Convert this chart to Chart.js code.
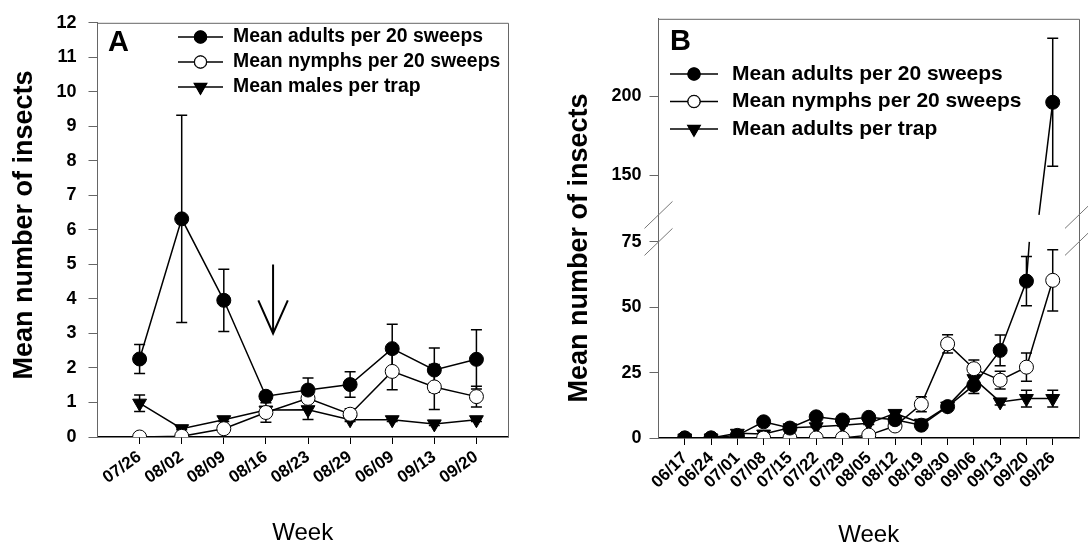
<!DOCTYPE html>
<html>
<head>
<meta charset="utf-8">
<script src="https://cdn.jsdelivr.net/npm/chart.js@4"></script>
<style>
  html, body { margin: 0; padding: 0; background: #fff; }
  .panel { position: absolute; top: 0; width: 544px; height: 550px; }
</style>
</head>
<body>
<div class="panel" style="left:0"><canvas id="chartA"></canvas></div>
<div class="panel" style="left:544px"><canvas id="chartB"></canvas></div>
<script>
// ---- panel A data ----
var WEEKS_A = ['07/26', '08/02', '08/09', '08/16', '08/23', '08/29', '06/09', '09/13', '09/20'];
var ADULTS_A = [2.26, 6.32, 3.96, 1.18, 1.36, 1.52, 2.56, 1.94, 2.25];
var ADULTS_A_SE = [0.42, 3.0, 0.9, 0.12, 0.35, 0.37, 0.71, 0.64, 0.86];
var NYMPHS_A = [0, 0.02, 0.24, 0.71, 1.12, 0.66, 1.9, 1.45, 1.17];
var NYMPHS_A_SE = [0, 0, 0.05, 0.28, 0.05, 0.16, 0.53, 0.65, 0.3];
var MALES_A = [0.98, 0.24, 0.5, 0.78, 0.79, 0.5, 0.5, 0.38, 0.5];
var MALES_A_SE = [0.24, 0.03, 0.05, 0.1, 0.28, 0.05, 0.05, 0.05, 0.05];
var LABELS_A = ['Mean adults per 20 sweeps', 'Mean nymphs per 20 sweeps', 'Mean males per trap'];

// ---- panel B data ----
var WEEKS_B = ['06/17', '06/24', '07/01', '07/08', '07/15', '07/22', '07/29', '08/05',
  '08/12', '08/19', '08/30', '09/06', '09/13', '09/20', '09/26'];
var ADULTS_B = [0, 0, 1, 6.2, 3.8, 8.1, 6.9, 7.9, 7.0, 4.9, 12.0, 20.2, 33.5, 60.0, 196.2];
var ADULTS_B_SE = [0, 0, 0.3, 0.8, 0.5, 0.8, 0.6, 0.8, 0.8, 0.8, 1.5, 3.2, 5.9, 9.4, 40.5];
var NYMPHS_B = [0, 0, 0, 0, 0, 0, 0, 1.1, 4.6, 12.9, 36.0, 26.5, 22.1, 27.1, 60.3];
var NYMPHS_B_SE = [0, 0, 0, 0, 0, 0, 0, 0.2, 0.5, 2.9, 3.5, 3.3, 3.4, 5.4, 11.7];
var TRAP_B = [0, 0, 1.8, 1.5, 3.9, 4.3, 4.9, 5.6, 9.4, 5.7, 12.2, 22.7, 13.8, 15.1, 15.1];
var TRAP_B_SE = [0, 0, 0.2, 0.3, 0.3, 0.3, 0.3, 0.4, 0.8, 0.5, 1.5, 2.5, 1.2, 3.2, 3.2];
var LABELS_B = ['Mean adults per 20 sweeps', 'Mean nymphs per 20 sweeps', 'Mean adults per trap'];
var Y_TICKS_B = [0, 25, 50, 75, 150, 200];
var BREAK_B = { low: 75, high: 125 };   // y values hidden by the axis break

// arrow drawn in panel A (data coordinates)
var ARROW_A = { x: 3.17, top: 5, tip: 3, wingY: 3.96, wingX: 0.35 };

var FONT = '"Liberation Sans", Arial, sans-serif';
Chart.defaults.font.family = FONT;
Chart.defaults.color = '#000';

// y scale with a gap between BREAK_B.low and BREAK_B.high
class BrokenScale extends Chart.LinearScale {
  getPixelForValue(v) {
    var gap = this.options.gapPx, span = this.bottom - this.top - gap, lowPx = span * this.options.lowShare;
    var lo = this.options.breakLow, hi = this.options.breakHigh;
    if (v <= lo) return this.bottom - (v - this.min) / (lo - this.min) * lowPx;
    if (v < hi) return this.bottom - lowPx - (v - lo) / (hi - lo) * gap;
    return this.bottom - lowPx - gap - (v - hi) / (this.max - hi) * (span - lowPx);
  }
  getValueForPixel(p) {
    var gap = this.options.gapPx, span = this.bottom - this.top - gap, lowPx = span * this.options.lowShare;
    var lo = this.options.breakLow, hi = this.options.breakHigh, d = this.bottom - p;
    if (d <= lowPx) return this.min + d / lowPx * (lo - this.min);
    if (d < lowPx + gap) return lo + (d - lowPx) / gap * (hi - lo);
    return hi + (d - lowPx - gap) / (span - lowPx) * (this.max - hi);
  }
}
BrokenScale.id = 'broken';
BrokenScale.defaults = Chart.LinearScale.defaults;
Chart.register(BrokenScale);

function series(vals) { return vals.map(function (v, i) { return { x: i, y: v }; }); }

function crosses(a, b) {
  return (a <= BREAK_B.low && b >= BREAK_B.high) || (b <= BREAK_B.low && a >= BREAK_B.high);
}

function makeSets(labels, vals, ses, broken) {
  var styles = [
    { pointStyle: 'circle', bg: '#000', r: 7, rot: 0 },
    { pointStyle: 'circle', bg: '#fff', r: 7, rot: 0 },
    { pointStyle: 'triangle', bg: '#000', r: 8, rot: 180 }
  ];
  return labels.map(function (lab, k) {
    var st = styles[k];
    var ds = {
      label: lab, data: series(vals[k]), se: ses[k],
      borderColor: '#000', borderWidth: 1.5,
      pointStyle: st.pointStyle, pointRotation: st.rot, pointRadius: st.r,
      pointBackgroundColor: st.bg, pointBorderColor: '#000', pointBorderWidth: 1
    };
    if (broken) {
      ds.segment = { borderColor: function (c) { return crosses(c.p0.parsed.y, c.p1.parsed.y) ? 'rgba(0,0,0,0)' : '#000'; } };
    }
    return ds;
  });
}

var errorBars = {
  id: 'errorBars',
  beforeDatasetsDraw: function (chart) {
    var ctx = chart.ctx, xs = chart.scales.x, ys = chart.scales.y;
    ctx.save();
    ctx.strokeStyle = '#000';
    ctx.lineWidth = 1.5;
    chart.data.datasets.forEach(function (ds) {
      ds.data.forEach(function (p, i) {
        var se = ds.se[i];
        if (!se) return;
        var x = xs.getPixelForValue(p.x), y1 = ys.getPixelForValue(p.y + se), y2 = ys.getPixelForValue(p.y - se);
        ctx.beginPath();
        ctx.moveTo(x, y1); ctx.lineTo(x, y2);
        ctx.moveTo(x - 5.5, y1); ctx.lineTo(x + 5.5, y1);
        ctx.moveTo(x - 5.5, y2); ctx.lineTo(x + 5.5, y2);
        ctx.stroke();
      });
      // pieces of a line that jumps across the axis break
      if (!ds.segment) return;
      for (var i = 1; i < ds.data.length; i++) {
        var a = ds.data[i - 1], b = ds.data[i];
        if (!crosses(a.y, b.y)) continue;
        var f = function (v) { return a.x + (v - a.y) / (b.y - a.y) * (b.x - a.x); };
        ctx.beginPath();
        ctx.moveTo(xs.getPixelForValue(a.x), ys.getPixelForValue(a.y));
        ctx.lineTo(xs.getPixelForValue(f(BREAK_B.low)), ys.getPixelForValue(BREAK_B.low));
        ctx.moveTo(xs.getPixelForValue(f(BREAK_B.high)), ys.getPixelForValue(BREAK_B.high));
        ctx.lineTo(xs.getPixelForValue(b.x), ys.getPixelForValue(b.y));
        ctx.stroke();
      }
    });
    ctx.restore();
  }
};

var decor = {
  id: 'decor',
  afterDraw: function (chart, args, o) {
    var ctx = chart.ctx, a = chart.chartArea, xs = chart.scales.x, ys = chart.scales.y;
    ctx.save();
    // top and right frame
    ctx.strokeStyle = '#666';
    ctx.lineWidth = 1;
    ctx.beginPath();
    ctx.moveTo(a.left, a.top + 0.5); ctx.lineTo(a.right + 0.5, a.top + 0.5); ctx.lineTo(a.right + 0.5, a.bottom);
    ctx.stroke();
    // y title
    ctx.fillStyle = '#000';
    ctx.save();
    ctx.translate(o.titleX, o.titleY);
    ctx.rotate(-Math.PI / 2);
    ctx.font = 'bold 27px ' + FONT;
    ctx.textAlign = 'center';
    ctx.textBaseline = 'middle';
    ctx.fillText('Mean number of insects', 0, 0);
    ctx.restore();
    // panel letter
    ctx.font = 'bold ' + o.letterSize + 'px ' + FONT;
    ctx.textBaseline = 'alphabetic';
    ctx.fillText(o.letter, o.letterX, o.letterY);
    // legend: line + marker + text
    ctx.font = 'bold ' + o.fontSize + 'px ' + FONT;
    ctx.textBaseline = 'middle';
    chart.data.datasets.forEach(function (ds, k) {
      var y = o.legendY + k * o.rowH, cx = o.legendX + o.lineLen / 2;
      ctx.strokeStyle = '#000';
      ctx.lineWidth = 1.5;
      ctx.beginPath(); ctx.moveTo(o.legendX, y); ctx.lineTo(o.legendX + o.lineLen, y); ctx.stroke();
      Chart.helpers.drawPoint(ctx, {
        pointStyle: ds.pointStyle, rotation: ds.pointRotation, radius: ds.pointRadius - 1, borderWidth: 1
      }, cx, y);
      ctx.fillStyle = ds.pointBackgroundColor;
      ctx.strokeStyle = '#000';
      ctx.lineWidth = 1;
      ctx.fill(); ctx.stroke();
      ctx.fillStyle = '#000';
      ctx.fillText(ds.label, o.legendX + o.lineLen + o.textGap, y);
    });
    // arrow
    if (o.arrow) {
      var ar = o.arrow, ax = xs.getPixelForValue(ar.x), ty = ys.getPixelForValue(ar.tip), wy = ys.getPixelForValue(ar.wingY);
      var wx = xs.getPixelForValue(ar.x + ar.wingX) - ax;
      ctx.strokeStyle = '#000';
      ctx.lineWidth = 2;
      ctx.beginPath();
      ctx.moveTo(ax, ys.getPixelForValue(ar.top)); ctx.lineTo(ax, ty);
      ctx.moveTo(ax - wx, wy); ctx.lineTo(ax, ty); ctx.lineTo(ax + wx, wy);
      ctx.stroke();
    }
    // axis break marks
    if (o.breakMarks) {
      ctx.strokeStyle = '#777';
      ctx.lineWidth = 1;
      [a.left, a.right].forEach(function (x) {
        [BREAK_B.low, BREAK_B.high].forEach(function (v) {
          var y = ys.getPixelForValue(v);
          ctx.beginPath(); ctx.moveTo(x - 14, y + 13.5); ctx.lineTo(x + 14, y - 13.5); ctx.stroke();
        });
      });
    }
    ctx.restore();
  }
};

function xAxis(weeks, max, rot, size, height, pad) {
  return {
    type: 'linear', min: -1, max: max,
    afterBuildTicks: function (s) { s.ticks = weeks.map(function (w, i) { return { value: i }; }); },
    afterFit: function (s) { s.height = height; },
    grid: { drawOnChartArea: false, tickLength: 7, color: '#000', tickWidth: 1 },
    border: { color: '#000', width: 1.5 },
    ticks: {
      autoSkip: false, minRotation: rot, maxRotation: rot, padding: 3,
      font: { size: size, weight: 'bold' },
      callback: function (v) { return weeks[v]; }
    },
    title: { display: true, text: 'Week', font: { size: 24 }, padding: { top: 0, bottom: pad } }
  };
}

new Chart(document.getElementById('chartA'), {
  type: 'line',
  data: { datasets: makeSets(LABELS_A, [ADULTS_A, NYMPHS_A, MALES_A], [ADULTS_A_SE, NYMPHS_A_SE, MALES_A_SE], false) },
  plugins: [errorBars, decor],
  options: {
    responsive: true, maintainAspectRatio: false, animation: false,
    layout: { padding: { left: 0, top: 16, right: 36, bottom: 0 } },
    plugins: {
      legend: { display: false }, tooltip: { enabled: false },
      decor: { letter: 'A', letterX: 108, letterY: 51, letterSize: 29, fontSize: 19.4,
        legendX: 178, legendY: 37, rowH: 25, lineLen: 45, textGap: 10, arrow: ARROW_A,
        titleX: 25, titleY: 225 }
    },
    scales: {
      x: xAxis(WEEKS_A, 8.75, 35, 17, 113, 2),
      y: {
        min: 0, max: 12,
        afterFit: function (s) { s.width = 97.5; },
        grid: { drawOnChartArea: false, tickLength: 9, color: '#666' },
        border: { color: '#666', width: 1 },
        ticks: { stepSize: 1, padding: 12, font: { size: 18, weight: 'bold' } }
      }
    }
  }
});

new Chart(document.getElementById('chartB'), {
  type: 'line',
  data: { datasets: makeSets(LABELS_B, [ADULTS_B, NYMPHS_B, TRAP_B], [ADULTS_B_SE, NYMPHS_B_SE, TRAP_B_SE], true) },
  plugins: [errorBars, decor],
  options: {
    responsive: true, maintainAspectRatio: false, animation: false,
    layout: { padding: { left: 0, top: 16, right: 8, bottom: 0 } },
    plugins: {
      legend: { display: false }, tooltip: { enabled: false },
      decor: { letter: 'B', letterX: 126, letterY: 50, letterSize: 29, fontSize: 21,
        legendX: 126, legendY: 74, rowH: 27.5, lineLen: 48, textGap: 14, breakMarks: true,
        titleX: 36, titleY: 248 }
    },
    scales: {
      x: xAxis(WEEKS_B, 15, 45, 17, 112, 0),
      y: {
        type: 'broken', min: 0, max: 249,
        breakLow: BREAK_B.low, breakHigh: BREAK_B.high, gapPx: 27, lowShare: 0.5,
        afterFit: function (s) { s.width = 114.5; },
        afterBuildTicks: function (s) { s.ticks = Y_TICKS_B.map(function (v) { return { value: v }; }); },
        grid: { drawOnChartArea: false, tickLength: 9, color: '#666' },
        border: { color: '#666', width: 1 },
        ticks: { padding: 8, font: { size: 18, weight: 'bold' } }
      }
    }
  }
});
</script>
</body>
</html>
